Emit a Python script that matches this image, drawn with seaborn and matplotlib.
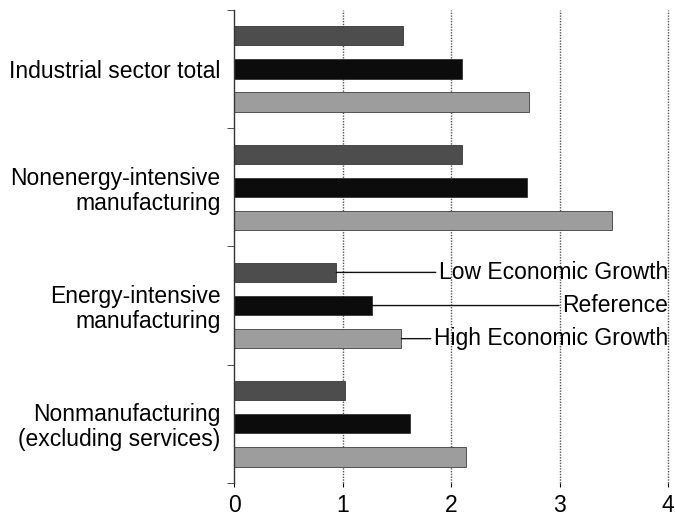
import pandas as pd
import matplotlib
matplotlib.use('Agg')
import matplotlib.pyplot as plt
import seaborn as sns

categorias = ['Industrial sector total',
              'Nonenergy-intensive\nmanufacturing',
              'Energy-intensive\nmanufacturing',
              'Nonmanufacturing\n(excluding services)']
escenarios = ['Low Economic Growth', 'Reference', 'High Economic Growth']
bajo = [1.56, 2.10, 0.94, 1.02]
referencia = [2.10, 2.70, 1.27, 1.62]
alto = [2.72, 3.48, 1.54, 2.14]
colores = ['#4d4d4d', '#0c0c0c', '#9d9d9d']

df = pd.DataFrame({
    'categoria': categorias * 3,
    'escenario': [e for e in escenarios for _ in categorias],
    'valor': bajo + referencia + alto,
})

sns.set_style('white')
plt.rcParams['font.family'] = ['Liberation Sans', 'DejaVu Sans']
plt.rcParams['text.color'] = 'black'
plt.rcParams['xtick.color'] = 'black'
plt.rcParams['ytick.color'] = 'black'

fig = plt.figure(figsize=(6.75, 5.16), dpi=100)
ax = fig.add_axes([0.347, 0.064, 0.643, 0.917])

g = sns.barplot(data=df, y='categoria', x='valor', hue='escenario', orient='h',
                order=categorias, hue_order=escenarios, palette=colores,
                width=0.84, ax=ax, legend=False, saturation=1)

# barras mas delgadas, centradas en su posicion
for p in g.patches:
    h = p.get_height()
    p.set_y(p.get_y() + h * 0.21)
    p.set_height(h * 0.58)
    p.set_edgecolor('#222222')
    p.set_linewidth(0.5)

ax.set_xlim(0, 4)
ax.set_ylim(3.5, -0.5)
ax.set_xticks([0, 1, 2, 3, 4])
ax.set_xlabel('')
ax.set_ylabel('')
ax.tick_params(axis='x', labelsize=16.5, length=3, colors='black', direction='out', bottom=True, pad=5)
ax.tick_params(axis='y', which='major', labelsize=16.5, length=0, pad=10, colors='black')
ax.set_yticks([i + 0.5 for i in range(-1, 4)], minor=True)
ax.tick_params(axis='y', which='minor', length=5, color='#333333', left=True)
for lab in ax.get_yticklabels():
    lab.set_horizontalalignment('right')
    lab.set_multialignment('right')
    lab.set_linespacing(1.1)

for s in ['top', 'right', 'bottom']:
    ax.spines[s].set_visible(False)
ax.spines['left'].set_color('#333333')
ax.spines['left'].set_linewidth(1.0)

for xv in [1, 2, 3, 4]:
    ax.axvline(xv, color='#555555', linestyle=(0, (1, 1)), linewidth=1.0, zorder=0, clip_on=False)

# etiquetas de los escenarios sobre Energy-intensive manufacturing
idx = 2
valores = [bajo, referencia, alto]
desplaz = [-0.28, 0.0, 0.28]
for nombre, vals, d in zip(escenarios, valores, desplaz):
    ax.annotate(nombre, xy=(vals[idx], idx + d), xytext=(4.0, idx + d),
                ha='right', va='center', fontsize=16.5, color='black',
                arrowprops=dict(arrowstyle='-', color='#111111', lw=1.0,
                                shrinkA=0, shrinkB=0, relpos=(0, 0.5)))

plt.savefig('out.png', dpi=100)
